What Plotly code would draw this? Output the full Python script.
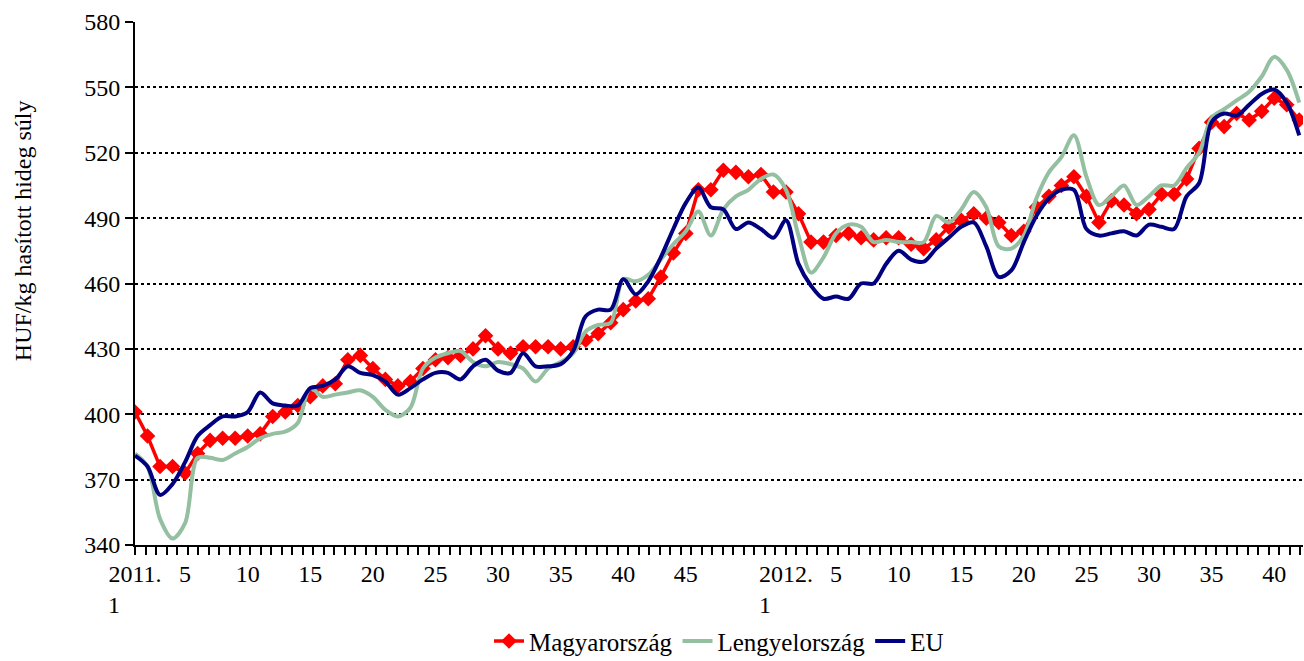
import plotly.graph_objects as go

# Week index: 2011 w1..w52 -> 0..51, 2012 w1..w42 -> 52..93
magyar = [401, 390, 376, 376, 373, 382, 388, 389, 389, 390, 391, 399, 401, 404, 408, 413, 414, 425, 427, 421,
          416, 413, 415, 421, 425, 426, 427, 430, 436, 430, 428, 431, 431, 431, 430, 431, 434, 437, 442, 448,
          452, 453, 463, 474, 483, 503, 503, 512, 511, 509, 510, 502, 502, 492, 479, 479, 482, 483, 481, 480,
          481, 481, 478, 476, 480, 486, 489, 492, 490, 488, 482, 484, 495, 500, 505, 509, 500, 488, 498, 496,
          492, 494, 501, 501, 508, 522, 534, 532, 538, 535, 539, 545, 542, 535]
lengyel = [382, 376, 352, 343, 350, 380, 380, 379, 382, 385, 389, 391, 392, 396, 412, 408, 409, 410, 411, 408,
           402, 399, 403, 421, 426, 428, 429, 424, 422, 424, 423, 421, 415, 421, 424, 428, 438, 441, 442, 462,
           461, 464, 471, 478, 484, 493, 482, 494, 500, 503, 508, 510, 503, 482, 465, 472, 483, 487, 486, 479,
           480, 479, 479, 479, 491, 488, 494, 502, 495, 477, 476, 482, 499, 511, 518, 528, 509, 496, 500, 505,
           496, 500, 505, 505, 513, 520, 536, 540, 544, 548, 555, 564, 558, 543]
eu = [381, 376, 363, 368, 378, 390, 395, 399, 399, 401, 410, 405, 404, 404, 412, 413, 416, 422, 419, 418,
      415, 409, 412, 416, 419, 419, 416, 422, 425, 420, 419, 428, 422, 422, 423, 429, 445, 448, 448, 462,
      455, 461, 472, 485, 497, 504, 495, 494, 485, 488, 485, 481, 489, 469, 459, 453, 454, 453, 460, 460,
      469, 475, 471, 470, 476, 481, 486, 488, 477, 463, 466, 479, 491, 499, 503, 503, 485, 482, 483, 484,
      482, 487, 486, 485, 500, 506, 534, 538, 537, 542, 547, 549, 543, 528]

x = list(range(len(magyar)))

tick_vals = [0, 4, 9, 14, 19, 24, 29, 34, 39, 44, 52, 56, 61, 66, 71, 76, 81, 86, 91]
pad = "\u00a0" * 7
tick_text = ["2011.<br>1" + pad, "5", "10", "15", "20", "25", "30", "35", "40", "45",
             "2012.<br>1" + pad, "5", "10", "15", "20", "25", "30", "35", "40"]
y_ticks = [340, 370, 400, 430, 460, 490, 520, 550, 580]

FONT = "Liberation Serif, Times New Roman, serif"

fig = go.Figure()
fig.add_trace(go.Scatter(x=x, y=magyar, name="Magyarország", mode="lines+markers",
                         line=dict(color="#FF0000", width=3.5),
                         marker=dict(symbol="diamond", size=12, color="#FF0000")))
fig.add_trace(go.Scatter(x=x, y=lengyel, name="Lengyelország", mode="lines",
                         line=dict(color="#94BFA0", width=4, shape="spline", smoothing=0.9)))
fig.add_trace(go.Scatter(x=x, y=eu, name="EU", mode="lines",
                         line=dict(color="#000080", width=4, shape="spline", smoothing=0.9)))

fig.update_layout(
    width=1304, height=661,
    margin=dict(l=135, r=1, t=22, b=116, autoexpand=False),
    paper_bgcolor="white", plot_bgcolor="white",
    font=dict(family=FONT, size=24, color="black"),
    showlegend=True,
    legend=dict(orientation="h", x=0.5, xanchor="center", y=-0.184, yanchor="middle",
                font=dict(family=FONT, size=25), itemwidth=30, tracegroupgap=0,
                bgcolor="rgba(0,0,0,0)"),
    xaxis=dict(range=[0, 93.3], tickmode="array", tickvals=tick_vals, ticktext=tick_text,
               ticks="", showgrid=False, zeroline=False, automargin=False,
               showline=True, linecolor="black", linewidth=2,
               tickfont=dict(family=FONT, size=24), ticklabelstandoff=6,
               minor=dict(ticks="outside", tickmode="linear", tick0=0, dtick=0.8387,
                          ticklen=8, tickwidth=2, tickcolor="black", showgrid=False)),
    yaxis=dict(range=[340, 580], tickmode="array", tickvals=y_ticks,
               ticks="outside", ticklen=8, tickwidth=2, tickcolor="black",
               showline=True, linecolor="black", linewidth=2, automargin=False,
               showgrid=True, gridcolor="black", gridwidth=2, griddash="dot",
               zeroline=False, tickfont=dict(family=FONT, size=24)),
    annotations=[dict(text="HUF/kg hasított hideg súly", textangle=-90,
                      xref="paper", yref="paper", x=-0.0959, y=0.602,
                      xanchor="center", yanchor="middle", showarrow=False,
                      font=dict(family=FONT, size=24))],
)

# remove the default page margin so the figure fills the window exactly
fig.write_html("out.html", config={"displayModeBar": False},
               post_script="document.body.style.margin='0';document.body.style.overflow='hidden';")
